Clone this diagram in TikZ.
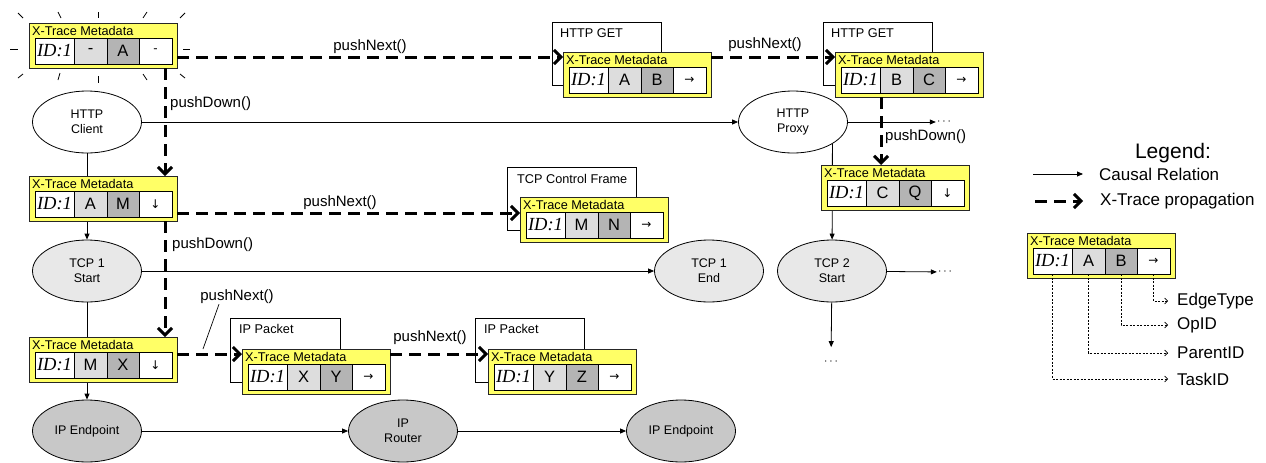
\documentclass[tikz,border=0pt]{standalone}
\usepackage{fontspec}
\setmainfont{Liberation Sans}
\newfontfamily\idfont{Liberation Serif}
\newfontfamily\glyphfont{DejaVu Sans}
\usetikzlibrary{arrows.meta,calc,shapes.geometric}
\pgfdeclarelayer{bg}
\pgfsetlayers{bg,main}

\definecolor{metayellow}{RGB}{255,255,102}
\definecolor{cellA}{RGB}{221,221,221}
\definecolor{cellB}{RGB}{180,180,180}
\definecolor{tcpgray}{RGB}{232,232,232}
\definecolor{ipgray}{RGB}{200,200,200}

\tikzset{
  metabox/.style={draw=black!85, line width=0.9pt, fill=metayellow, minimum width=148pt,
    minimum height=45pt, anchor=north west, inner sep=0pt, outer sep=0pt},
  metatitle/.style={anchor=west, inner sep=0pt, font=\fontsize{12.7}{14}\selectfont},
  cell/.style={draw=black, line width=0.7pt, fill=white, minimum height=26pt, anchor=north west,
    inner sep=0pt, outer sep=0pt, font=\fontsize{16.5}{18}\selectfont},
  packet/.style={draw, line width=0.8pt, fill=white, anchor=north west, minimum width=109pt,
    minimum height=63pt, inner sep=0pt, outer sep=0pt},
  pktlabel/.style={anchor=west, inner sep=0pt, font=\fontsize{12.7}{14}\selectfont},
  proc/.style={ellipse, draw, line width=0.8pt, minimum width=109pt, minimum height=62pt,
    inner sep=0pt, align=center, font=\fontsize{12.5}{15}\selectfont},
  causal/.style={line width=0.8pt, -{Triangle[length=6pt,width=5pt]}},
  prop/.style={line width=3pt, dash pattern=on 12pt off 7pt, -{Straight Barb[length=7pt,width=14pt]}},
  call/.style={inner sep=0pt, font=\fontsize{15}{17}\selectfont},
  ray/.style={line width=0.8pt},
  legtext/.style={anchor=west, inner sep=0pt, font=\fontsize{17}{19}\selectfont},
  fieldarrow/.style={line width=0.6pt, dash pattern=on 2pt off 1.5pt, -{Straight Barb[length=3pt,width=6pt]}},
  etc/.style={inner sep=1pt, font=\fontsize{13}{15}\selectfont},
}

% X-Trace metadata block: name, north-west corner, parent id, op id, edge glyph
\newcommand{\xmeta}[5]{%
  \node[metabox] (#1) at (#2) {};
  \node[metatitle] (#1-t) at ([xshift=3pt,yshift=-7.5pt]#1.north west) {X-Trace Metadata};
  \node[cell, minimum width=39pt] (#1-id) at ([xshift=6pt,yshift=-15pt]#1.north west)
    {\idfont\itshape\fontsize{18.5}{20}\selectfont ID:1};
  \node[cell, minimum width=33pt, fill=cellA] (#1-p) at (#1-id.north east) {#3};
  \node[cell, minimum width=32pt, fill=cellB] (#1-o) at (#1-p.north east) {#4};
  \node[cell, minimum width=33pt] (#1-e) at (#1-o.north east) {\glyphfont\fontsize{12}{14}\selectfont #5};
}

\begin{document}
\begin{tikzpicture}[x=1pt,y=-1pt]
\useasboundingbox (0,0) rectangle (1266,463);

% processes
\node[proc] (hclient) at (87,122) {HTTP\\Client};
\node[proc] (hproxy) at (793,122) {HTTP\\Proxy};
\node[proc, fill=tcpgray] (tcp1s) at (87,271) {TCP 1\\Start};
\node[proc, fill=tcpgray] (tcp1e) at (709,271) {TCP 1\\End};
\node[proc, fill=tcpgray] (tcp2s) at (832,271) {TCP 2\\Start};
\node[proc, fill=ipgray] (ipa) at (87,431) {IP Endpoint};
\node[proc, fill=ipgray] (ipr) at (403,431) {IP\\Router};
\node[proc, fill=ipgray] (ipb) at (681,431) {IP Endpoint};

\node[etc] (more1) at (944,122) {$\cdots$};
\node[etc] (more2) at (945,272) {$\cdots$};
\node[etc] (more3) at (831,362) {$\cdots$};

% causal relations
\begin{pgfonlayer}{bg}
\draw[causal] (hclient) -- (tcp1s);
\draw[causal] (tcp1s) -- (ipa);
\draw[causal] (hclient) -- (hproxy);
\draw[causal] (hproxy) -- (more1);
\draw[causal] (hproxy.-29.4) -- (tcp2s);
\draw[causal] (tcp1s) -- (tcp1e);
\draw[causal] (tcp2s) -- (more2);
\draw[causal, shorten >=11pt] (tcp2s) -- (more3);
\draw[causal] (ipa) -- (ipr);
\draw[causal] (ipr) -- (ipb);
\end{pgfonlayer}

% protocol messages carrying metadata
\node[packet] (get1) at (552,22) {};
\node[pktlabel] at ([xshift=8pt,yshift=-11pt]get1.north west) {HTTP GET};
\node[packet] (get2) at (823,22) {};
\node[pktlabel] at ([xshift=8pt,yshift=-11pt]get2.north west) {HTTP GET};
\node[packet, minimum width=129pt] (tcf) at (507,167) {};
\node[pktlabel] at ([xshift=10pt,yshift=-12pt]tcf.north west) {TCP Control Frame};
\node[packet, minimum width=110pt, minimum height=64pt] (ipp1) at (230,318) {};
\node[pktlabel] at ([xshift=9pt,yshift=-11pt]ipp1.north west) {IP Packet};
\node[packet, minimum height=64pt] (ipp2) at (475,318) {};
\node[pktlabel] at ([xshift=9pt,yshift=-11pt]ipp2.north west) {IP Packet};

% metadata blocks
\xmeta{m0}{29,23}{-}{A}{-}
\xmeta{mget1}{563,52}{A}{B}{→}
\xmeta{mget2}{835,52}{B}{C}{→}
\xmeta{mAM}{29,176}{A}{M}{↓}
\xmeta{mtcf}{520,197}{M}{N}{→}
\xmeta{mCQ}{821,165}{C}{Q}{↓}
\xmeta{mMX}{29,337}{M}{X}{↓}
\xmeta{mip1}{242,349}{X}{Y}{→}
\xmeta{mip2}{488,349}{Y}{Z}{→}

% rays around the originating metadata
\draw[ray] (18,13) -- (23,18);
\draw[ray] (58,12) -- (61,18);
\draw[ray] (98,12) -- (98,18);
\draw[ray] (147,12) -- (143,18);
\draw[ray] (185,13) -- (180,18);
\draw[ray] (10,49) -- (18,49);
\draw[ray] (183,49) -- (190,49);
\draw[ray] (23,74) -- (18,78);
\draw[ray] (60,73) -- (58,80);
\draw[ray] (98,76) -- (98,83);
\draw[ray] (143,74) -- (147,80);
\draw[ray] (180,74) -- (185,78);

% metadata propagation
\draw[prop] ([yshift=-34pt]m0.north east) -- ([yshift=-5pt]mget1.north west);
\draw[prop] ([yshift=-5pt]mget1.north east) -- ([yshift=-5pt]mget2.north west);
\draw[prop] ([xshift=136pt]m0.south west) -- ([xshift=136pt]mAM.north west);
\draw[prop] ([yshift=-37pt]mAM.north east) -- ([yshift=-16pt]mtcf.north west);
\draw[prop] ([xshift=136pt]mAM.south west) -- ([xshift=136pt]mMX.north west);
\draw[prop] ([yshift=-17pt]mMX.north east) -- ([yshift=-5pt]mip1.north west);
\draw[prop] ([yshift=-5pt]mip1.north east) -- ([yshift=-5pt]mip2.north west);
\draw[prop] ([xshift=46pt]mget2.south west) -- ([xshift=60pt]mCQ.north west);

% operation labels
\node[call] (pn1) at (370,47) {pushNext()};
\node[call] (pn2) at (765,45) {pushNext()};
\node[call, anchor=west] (pd1) at (170,104) {pushDown()};
\node[call] (pn3) at (340,203) {pushNext()};
\node[call, anchor=west] (pd2) at (172,245) {pushDown()};
\node[call] (pn4) at (237,297) {pushNext()};
\node[call] (pn5) at (430,338) {pushNext()};
\node[call, anchor=west] (pd3) at (885,137) {pushDown()};
\coordinate (pn4foot) at (203,349);
\draw[line width=0.7pt] (pn4foot) -- ([xshift=-18pt]pn4.south);

% legend
\node[inner sep=0pt, font=\fontsize{21}{24}\selectfont] (legtitle) at (1173,153) {Legend:};
\coordinate (lc0) at (1033,174);
\node[legtext] (lcausal) at (1099,174) {Causal Relation};
\draw[causal, shorten >=16pt] (lc0) -- (lcausal.west);
\coordinate (lp0) at (1035,201);
\node[legtext] (lprop) at (1100,201) {X-Trace propagation};
\draw[prop, shorten >=17pt] (lp0) -- (lprop.west);

\xmeta{lg}{1027,233}{A}{B}{→}
\node[legtext] (fedge) at (1177,301) {EdgeType};
\node[legtext] (fop) at (1177,325) {OpID};
\node[legtext] (fpar) at (1177,353) {ParentID};
\node[legtext] (ftask) at (1177,379) {TaskID};
\draw[fieldarrow, shorten >=9pt] (lg-e.south) |- (fedge.west);
\draw[fieldarrow, shorten >=9pt] (lg-o.south) |- (fop.west);
\draw[fieldarrow, shorten >=9pt] (lg-p.south) |- (fpar.west);
\draw[fieldarrow, shorten >=9pt] (lg-id.south) |- (ftask.west);
\end{tikzpicture}
\end{document}
